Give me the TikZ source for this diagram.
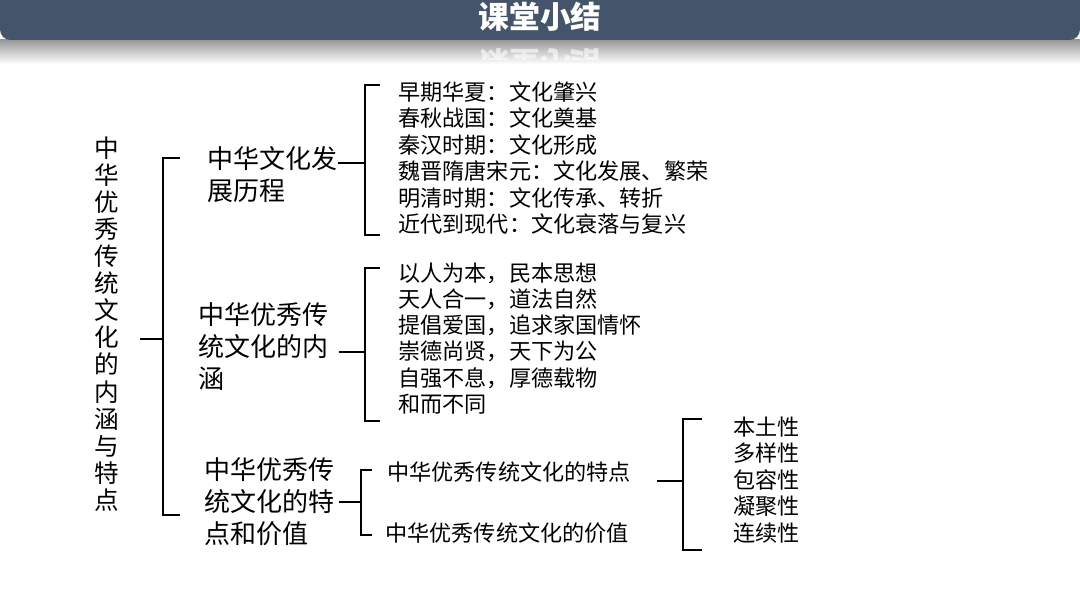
\documentclass[tikz,border=0pt]{standalone}
\usepackage{fontspec}
\setmainfont{Noto Sans CJK SC}
\usepackage{xcolor}
\usetikzlibrary{positioning, calc}
\definecolor{barblue}{HTML}{44546A}

\begin{document}
\begin{tikzpicture}[
  x=0.02cm, y=-0.02cm,
  head/.style={font=\fontsize{17.5}{20}\selectfont\bfseries, text=white},
  big/.style={font=\fontsize{14.8}{18.2}\selectfont, align=left, anchor=west, inner sep=0pt},
  item/.style={font=\fontsize{12.6}{15}\selectfont, anchor=west, inner sep=0pt},
  brace/.style={line width=1.4pt}
]
  \useasboundingbox (0,0) rectangle (1080,608);

  % header bar with its reflection
  \shade[top color=black!40, bottom color=white] (0,40) rectangle (1080,64);
  \fill[barblue, rounded corners=6pt] (0,-10) rectangle (1080,40);
  \node[head] (title) at (540,17) {课堂小结};
  \begin{scope}
    \clip (0,41) rectangle (1080,60);
    \node[head, yscale=-1, opacity=0.6] (mirror) at (540,63) {课堂小结};
  \end{scope}

  % root
  \node[font=\fontsize{14}{15.4}\selectfont, align=center, inner sep=0pt] (root) at (107,324)
    {中\\华\\优\\秀\\传\\统\\文\\化\\的\\内\\涵\\与\\特\\点};

  % second level
  \node[big] (dev) at (207,175) {中华文化发\\展历程};
  \node[big] (nh) at (198,347) {中华优秀传\\统文化的内\\涵};
  \node[big] (tv) at (204,502) {中华优秀传\\统文化的特\\点和价值};

  \node[item] (tz) at (387,472) {中华优秀传统文化的特点};
  \node[item] (jz) at (385,533) {中华优秀传统文化的价值};

  % leaves
  \foreach \t [count=\i from 0] in {早期华夏：文化肇兴, 春秋战国：文化奠基, 秦汉时期：文化形成,
      魏晋隋唐宋元：文化发展、繁荣, 明清时期：文化传承、转折, 近代到现代：文化衰落与复兴}
    \node[item] (d\i) at (398, 92+26.4*\i) {\t};
  \foreach \t [count=\i from 0] in {以人为本，民本思想, 天人合一，道法自然, 提倡爱国，追求家国情怀,
      崇德尚贤，天下为公, 自强不息，厚德载物, 和而不同}
    \node[item] (n\i) at (398, 273+26.2*\i) {\t};
  \foreach \t [count=\i from 0] in {本土性, 多样性, 包容性, 凝聚性, 连续性}
    \node[item] (p\i) at (733, 427+26.5*\i) {\t};

  % brackets
  \foreach \x/\top/\bot/\w in {163/158/515/17, 365/85/235/15, 365/268/421/15,
      361/470/535/11, 683/419/550/19}
    \draw[brace] (\x+\w,\top) -| (\x,\bot) -- (\x+\w,\bot);

  \coordinate (b0) at (163,339);
  \coordinate (b1) at (365,163);
  \coordinate (b2) at (365,352);
  \coordinate (b3) at (361,502);
  \coordinate (b4) at (683,481);

  \draw[brace] ($(root.east |- b0)+(20,0)$) -- (b0);
  \draw[brace] (dev.east |- b1) -- (b1);
  \draw[brace] ($(nh.east |- b2)+(10,0)$) -- (b2);
  \draw[brace] ($(tv.east |- b3)+(4,0)$) -- (b3);
  \draw[brace] ($(tz.east |- b4)+(26,0)$) -- (b4);
\end{tikzpicture}
\end{document}
